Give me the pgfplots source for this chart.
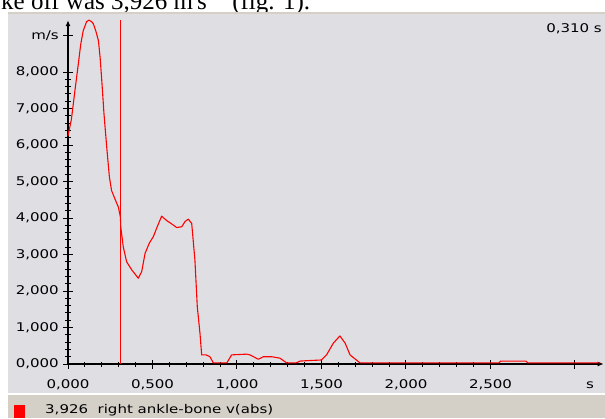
\documentclass[border=0pt]{standalone}
\usepackage{fontspec}
\setmainfont{DejaVu Sans}[FakeStretch=1.25]
\newfontfamily\serif{Liberation Serif}
\usepackage{pgfplots}
\pgfplotsset{compat=1.18}
\usetikzlibrary{arrows.meta}
\definecolor{panel}{HTML}{DFDFE3}
\definecolor{strip}{HTML}{D4D0C8}
\newcommand\ui{\fontsize{12}{14}\selectfont}
\begin{document}
\begin{tikzpicture}
\useasboundingbox (0pt,0pt) rectangle (605pt,418pt);
\clip (0pt,0pt) rectangle (605pt,418pt);
\fill[white] (0pt,0pt) rectangle (605pt,418pt);
\node[anchor=base west, inner sep=0pt, font=\serif\fontsize{25}{28}\selectfont] at (1pt,408pt) {ke off was 3,926 m\,s\textsuperscript{−1} (fig. 1).};
\fill[panel] (8pt,25pt) rectangle (605pt,404pt);
\fill[strip] (8pt,404pt) rectangle (605pt,406pt);
\fill[strip] (8pt,0pt) rectangle (605pt,23pt);
\fill[red] (14pt,0pt) rectangle (25pt,13pt);
\node[anchor=base west, inner sep=0pt, font=\ui] at (45pt,5pt) {3,926\ \ right ankle-bone v(abs)};
\node[anchor=base east, inner sep=0pt, font=\ui] at (602pt,385.3pt) {0,310 s};
\begin{axis}[
  at={(68pt,54pt)}, anchor=south west, scale only axis,
  width=535.7pt, height=343.8pt,
  xmin=0, xmax=3.17, ymin=0, ymax=9.42,
  clip=false,
  axis lines=left,
  x axis line style={black, line width=1.3pt, -{Latex[length=6pt,width=5pt]}},
  y axis line style={black, line width=1.3pt, -{Latex[length=6pt,width=5pt]}},
  tick align=center,
  major tick length=9pt, minor tick length=5pt,
  every tick/.style={black, line width=1pt},
  xtick={0,0.5,1,1.5,2,2.5},
  extra x ticks={3}, extra x tick labels={\vphantom{0}s},
  extra x tick style={xticklabel style={xshift=15pt}},
  minor x tick num=4,
  ytick={0,1,2,3,4,5,6,7,8},
  extra y ticks={9}, extra y tick labels={m/s},
  minor y tick num=4,
  /pgf/number format/fixed, /pgf/number format/fixed zerofill,
  /pgf/number format/precision=3, /pgf/number format/use comma,
  /pgf/number format/assume math mode=true,
  tick label style={font=\ui, black},
  xticklabel style={anchor=north, inner sep=0pt},
  yticklabel style={anchor=east, inner sep=0pt},
  xticklabel shift=11pt, yticklabel shift=4.5pt,
]
\addplot[red, line width=1.1pt, line join=round] coordinates {
(0.000,6.25) (0.020,6.70) (0.041,7.49) (0.061,8.22) (0.075,8.75) (0.090,9.13)
(0.110,9.38) (0.124,9.42) (0.140,9.38) (0.150,9.32) (0.165,9.12) (0.180,8.86)
(0.190,8.40) (0.200,7.76) (0.213,6.85) (0.229,5.95) (0.245,5.12) (0.258,4.75)
(0.278,4.52) (0.298,4.30) (0.310,4.03) (0.312,3.76) (0.327,3.21) (0.347,2.80)
(0.377,2.58) (0.416,2.35) (0.436,2.53) (0.456,3.03) (0.481,3.31) (0.505,3.49)
(0.528,3.76) (0.554,4.05) (0.584,3.93) (0.613,3.84) (0.643,3.74) (0.673,3.76)
(0.692,3.90) (0.712,3.97) (0.732,3.85) (0.751,2.85) (0.765,1.57) (0.781,0.84)
(0.791,0.25) (0.817,0.25) (0.840,0.20) (0.860,0.03) (0.940,0.03) (0.968,0.25)
(1.057,0.27) (1.077,0.25) (1.126,0.13) (1.156,0.20) (1.205,0.20) (1.254,0.16)
(1.294,0.03) (1.350,0.03) (1.373,0.08) (1.410,0.09) (1.500,0.11) (1.530,0.25)
(1.570,0.57) (1.609,0.77) (1.640,0.57) (1.669,0.25) (1.728,0.03) (2.550,0.03)
(2.560,0.08) (2.710,0.08) (2.720,0.03) (3.150,0.03)
};
\addplot[red, line width=1.1pt] coordinates {(0.31,0) (0.31,9.42)};
\end{axis}
\end{tikzpicture}
\end{document}
